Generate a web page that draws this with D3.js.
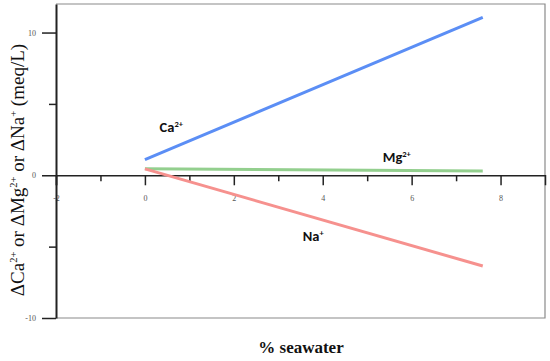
<!DOCTYPE html>
<html>
<head>
<meta charset="utf-8">
<script src="https://cdn.jsdelivr.net/npm/d3@7"></script>
<style>
  body { margin: 0; background: #fff; }
  svg { display: block; }
  .tick text { font-family: "Liberation Serif", "DejaVu Serif", serif; fill: #555; }
</style>
</head>
<body>
<div id="chart"></div>
<script>
(function(){

  // seawater fraction (%) at the two ends of each line
  var seawater = [0, 7.6];
  var caValues = [1.1, 11.07];
  var mgValues = [0.45, 0.3];
  var naValues = [0.45, -6.36];

  var series = [
    {name: "Ca", sup: "2+", values: caValues, color: "#5b8ef5", labelAt: [0.33, 3.0]},
    {name: "Mg", sup: "2+", values: mgValues, color: "#93cf8e", labelAt: [5.35, 0.95]},
    {name: "Na", sup: "+", values: naValues, color: "#f6918e", labelAt: [3.55, -4.6]}
  ];

  var xTicks = [-2, -1, 0, 1, 2, 3, 4, 5, 6, 7, 8, 9];
  var xLabels = [-2, 0, 2, 4, 6, 8];
  var yTicks = [-10, -5, 0, 5, 10];
  var yLabels = [-10, 0, 10];

  var width = 550, height = 361;
  var left = 56, right = 545, top = 4, bottom = 318;

  var svg = d3.select("#chart").append("svg")
    .attr("width", width)
    .attr("height", height);

  var x = d3.scaleLinear().domain([-2, 9]).range([left, right]);
  var y = d3.scaleLinear().domain([-10, 12]).range([bottom, top]);

  // frame (top, right, bottom)
  svg.append("path")
    .attr("d", "M" + left + "," + top + "H" + right + "V" + bottom + "H" + left)
    .attr("fill", "none")
    .attr("stroke", "#8a8a8a")
    .attr("stroke-width", 1.2);

  // x axis through zero
  var xAxis = d3.axisBottom(x)
    .tickValues(xTicks)
    .tickSize(10)
    .tickPadding(10)
    .tickFormat(function(d){ return xLabels.indexOf(d) >= 0 ? d : ""; });
  var gx = svg.append("g")
    .attr("transform", "translate(0," + y(0) + ")")
    .call(xAxis);
  gx.select(".domain").attr("stroke", "#222").attr("stroke-width", 1.5);
  gx.selectAll(".tick line")
    .attr("stroke", "#222").attr("stroke-width", 1.5)
    .attr("y2", function(d){ return xLabels.indexOf(d) >= 0 ? 10 : 6; });
  gx.selectAll(".tick text").attr("font-size", 8);
  gx.selectAll(".tick").filter(function(d){ return d === 9; }).select("line").remove();

  // y axis
  var yAxis = d3.axisLeft(y)
    .tickValues(yTicks)
    .tickSize(14)
    .tickPadding(6)
    .tickSizeOuter(0)
    .tickFormat(function(d){ return yLabels.indexOf(d) >= 0 ? d : ""; });
  var gy = svg.append("g")
    .attr("transform", "translate(" + left + ",0)")
    .call(yAxis);
  gy.select(".domain").attr("stroke", "#222").attr("stroke-width", 2);
  gy.selectAll(".tick line")
    .attr("stroke", "#222").attr("stroke-width", 1.5)
    .attr("x2", function(d){ return yLabels.indexOf(d) >= 0 ? -14 : -7; });
  gy.selectAll(".tick text").attr("font-size", 8);

  // lines
  var line = d3.line()
    .x(function(d){ return x(d[0]); })
    .y(function(d){ return y(d[1]); });

  series.forEach(function(s){
    var pts = seawater.map(function(v, i){ return [v, s.values[i]]; });
    svg.append("path")
      .datum(pts)
      .attr("d", line)
      .attr("fill", "none")
      .attr("stroke", s.color)
      .attr("stroke-width", 3);

    var t = svg.append("text")
      .attr("x", x(s.labelAt[0]))
      .attr("y", y(s.labelAt[1]))
      .attr("font-family", "Carlito, 'Liberation Sans', Arial, sans-serif")
      .attr("font-weight", "bold")
      .attr("font-size", 14.5)
      .attr("fill", "#111");
    t.append("tspan").text(s.name);
    t.append("tspan").attr("dy", -5).attr("font-size", 8.5).text(s.sup);
  });

  // axis titles
  var ty = svg.append("text")
    .attr("transform", "translate(24," + 170 + ") rotate(-90)")
    .attr("text-anchor", "middle")
    .attr("font-family", "'Liberation Serif', 'Times New Roman', serif")
    .attr("font-size", 19)
    .attr("fill", "#111");
  ty.append("tspan").text("\u0394Ca");
  ty.append("tspan").attr("dy", -7).attr("font-size", 10.5).text("2+");
  ty.append("tspan").attr("dy", 7).text(" or \u0394Mg");
  ty.append("tspan").attr("dy", -7).attr("font-size", 10.5).text("2+");
  ty.append("tspan").attr("dy", 7).text(" or \u0394Na");
  ty.append("tspan").attr("dy", -7).attr("font-size", 10.5).text("+");
  ty.append("tspan").attr("dy", 7).text(" (meq/L)");

  svg.append("text")
    .attr("x", 301)
    .attr("y", 353)
    .attr("text-anchor", "middle")
    .attr("font-family", "'Liberation Serif', serif")
    .attr("font-weight", "bold")
    .attr("font-size", 17)
    .attr("fill", "#111")
    .text("% seawater");

})();
</script>
</body>
</html>
